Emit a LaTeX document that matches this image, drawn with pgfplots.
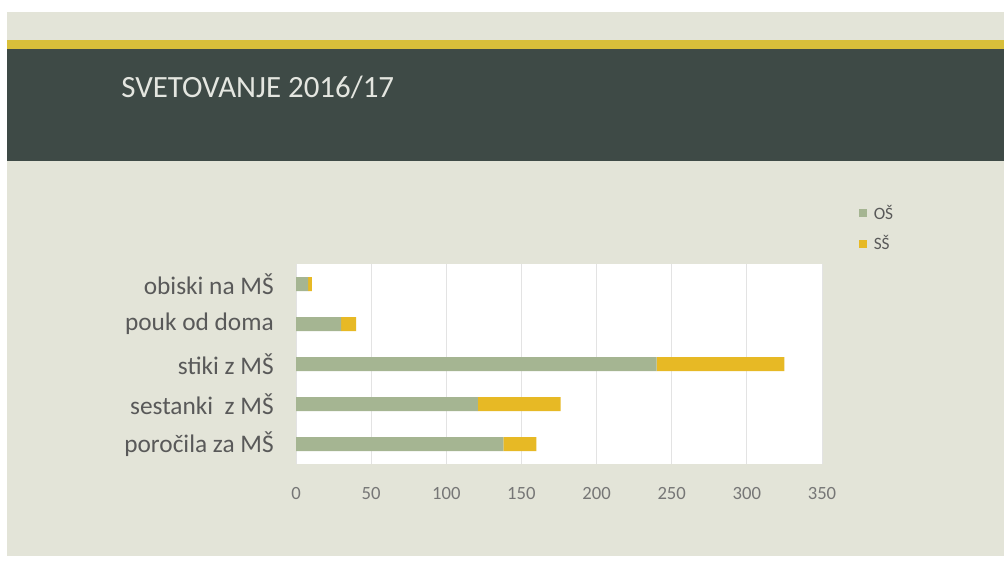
\documentclass[border=0pt]{standalone}
\usepackage{fontspec}
\setmainfont{Carlito}
\usepackage{pgfplots}
\pgfplotsset{compat=1.18}

\definecolor{slidebg}{HTML}{E3E4D8}
\definecolor{board}{HTML}{3E4A46}
\definecolor{stripe}{HTML}{D8BF3A}
\definecolor{titlecol}{HTML}{E4E6E0}
\definecolor{osgreen}{HTML}{A5B592}
\definecolor{ssgold}{HTML}{E7B925}
\definecolor{labelcol}{HTML}{595959}
\definecolor{tickcol}{HTML}{767676}
\definecolor{gridcol}{HTML}{E3E3E3}

\begin{document}
\begin{tikzpicture}
\useasboundingbox (0,0) rectangle (753pt,-421.5pt);
% slide background, pixel coordinates with y downwards
\begin{scope}[x=0.75pt,y=-0.75pt]
  \fill[white] (0,0) rectangle (1004,562);
  \fill[slidebg] (7,12) rectangle (1004,556);
  \fill[stripe] (7,40) rectangle (1004,49);
  \fill[board] (7,49) rectangle (1004,161);
  \node[anchor=base west, inner sep=0pt, text=titlecol,
        font=\fontsize{23.2}{27}\selectfont] at (121,97) {SVETOVANJE 2016/17};
\end{scope}

\begin{axis}[
    at={(222pt,-348pt)}, anchor=south west,
    width=394.5pt, height=150pt, scale only axis,
    xbar stacked, bar width=10.5pt,
    xmin=0, xmax=350, ymin=-0.5, ymax=4.5,
    xtick={0,50,...,350},
    ytick={0,1,2,3,4},
    yticklabels={poročila za MŠ, sestanki\ \ z MŠ, stiki z MŠ, pouk od doma, obiski na MŠ},
    axis line style={draw=none},
    major tick length=0pt,
    xmajorgrids, grid style={gridcol, line width=0.75pt},
    axis background/.style={fill=white},
    /pgf/number format/assume math mode=true,
    xticklabel style={font=\fontsize{14}{16}\selectfont, text=tickcol,
                      anchor=north, inner sep=0pt, yshift=-17.5pt},
    yticklabel style={font=\fontsize{19}{22}\selectfont, text=labelcol,
                      anchor=east, inner sep=0pt, xshift=-16.5pt},
    legend style={at={(1.07,1.31)}, anchor=north west, draw=none, fill=none,
                  font=\fontsize{13}{15}\selectfont, text=labelcol,
                  row sep=7pt, inner sep=0pt},
    legend cell align=left,
    legend image code/.code={\fill[#1] (0pt,-3pt) rectangle (6pt,3pt);
                             \path (9pt,0pt);},
]
% OŠ
\addplot[fill=osgreen, draw=none] coordinates {
    (138,0) (121,1) (240,2) (30,3) (8,4)
};
% SŠ
\addplot[fill=ssgold, draw=none] coordinates {
    (22,0) (55,1) (85,2) (10,3) (2.5,4)
};
\legend{OŠ, SŠ}
\end{axis}
\end{tikzpicture}
\end{document}
